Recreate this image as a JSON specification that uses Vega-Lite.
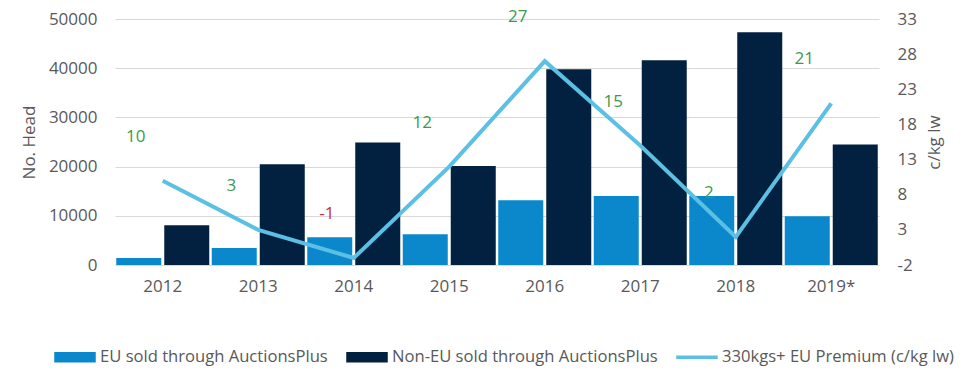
{
  "$schema": "https://vega.github.io/schema/vega-lite/v6.json",
  "width": 764,
  "height": 246,
  "autosize": "none",
  "padding": {"left": 115, "top": 19, "right": 93, "bottom": 112},
  "background": "white",
  "config": {
    "view": {"stroke": null},
    "font": "Open Sans",
    "axis": {
      "labelFont": "Open Sans",
      "labelFontSize": 17,
      "labelColor": "#595959",
      "titleFont": "Open Sans",
      "titleFontSize": 17,
      "titleFontWeight": "normal",
      "titleColor": "#595959",
      "domain": false,
      "ticks": false
    }
  },
  "datasets": {
    "bars": [
      {"year": "2012", "series": "EU sold through AuctionsPlus", "head": 1400},
      {"year": "2012", "series": "Non-EU sold through AuctionsPlus", "head": 8100},
      {"year": "2013", "series": "EU sold through AuctionsPlus", "head": 3450},
      {"year": "2013", "series": "Non-EU sold through AuctionsPlus", "head": 20500},
      {"year": "2014", "series": "EU sold through AuctionsPlus", "head": 5650},
      {"year": "2014", "series": "Non-EU sold through AuctionsPlus", "head": 24900},
      {"year": "2015", "series": "EU sold through AuctionsPlus", "head": 6250},
      {"year": "2015", "series": "Non-EU sold through AuctionsPlus", "head": 20100},
      {"year": "2016", "series": "EU sold through AuctionsPlus", "head": 13150},
      {"year": "2016", "series": "Non-EU sold through AuctionsPlus", "head": 39800},
      {"year": "2017", "series": "EU sold through AuctionsPlus", "head": 14000},
      {"year": "2017", "series": "Non-EU sold through AuctionsPlus", "head": 41600},
      {"year": "2018", "series": "EU sold through AuctionsPlus", "head": 14000},
      {"year": "2018", "series": "Non-EU sold through AuctionsPlus", "head": 47300},
      {"year": "2019*", "series": "EU sold through AuctionsPlus", "head": 9900},
      {"year": "2019*", "series": "Non-EU sold through AuctionsPlus", "head": 24500}
    ],
    "premium": [
      {"year": "2012", "premium": 10},
      {"year": "2013", "premium": 3},
      {"year": "2014", "premium": -1},
      {"year": "2015", "premium": 12},
      {"year": "2016", "premium": 27},
      {"year": "2017", "premium": 15},
      {"year": "2018", "premium": 2},
      {"year": "2019*", "premium": 21}
    ]
  },
  "layer": [
    {
      "data": {"name": "bars"},
      "mark": {"type": "bar"},
      "encoding": {
        "x": {
          "field": "year", "type": "nominal", "sort": null,
          "scale": {"paddingInner": 0, "paddingOuter": 0},
          "axis": {"title": null, "labelAngle": 0, "labelPadding": 13}
        },
        "xOffset": {
          "field": "series", "type": "nominal",
          "sort": ["EU sold through AuctionsPlus", "Non-EU sold through AuctionsPlus"],
          "scale": {"paddingInner": 0.0625, "paddingOuter": 0.026}
        },
        "y": {
          "field": "head", "type": "quantitative",
          "scale": {"domain": [0, 50000], "nice": false},
          "axis": {
            "title": "No. Head",
            "values": [0, 10000, 20000, 30000, 40000, 50000],
            "format": "d",
            "grid": true,
            "gridColor": "#d9d9d9",
            "labelPadding": 18,
            "titlePadding": 10
          }
        },
        "color": {
          "field": "series", "type": "nominal",
          "scale": {
            "domain": ["EU sold through AuctionsPlus", "Non-EU sold through AuctionsPlus", "330kgs+ EU Premium (c/kg lw)"],
            "range": ["#0b88cc", "#02203f", "#5bc0e3"]
          },
          "legend": {
            "orient": "none",
            "legendX": -61,
            "legendY": 317,
            "direction": "horizontal",
            "title": null,
            "labelFont": "Open Sans",
            "labelFontSize": 16.6,
            "labelColor": "#595959",
            "labelLimit": 0,
            "symbolSize": 1600,
            "labelOffset": 4,
            "columnPadding": 16,
            "symbolType": "M-1,-0.225H1V0.225H-1Z",
            "encode": {
              "symbols": {
                "update": {
                  "shape": {"signal": "datum.value === '330kgs+ EU Premium (c/kg lw)' ? 'M-1,-0.05H1V0.05H-1Z' : 'M-1,-0.225H1V0.225H-1Z'"},
                  "fill": {"scale": "color", "field": "value"},
                  "stroke": {"value": "transparent"},
                  "opacity": {"value": 1},
                  "fillOpacity": {"value": 1}
                }
              }
            }
          }
        }
      }
    },
    {
      "data": {"name": "premium"},
      "encoding": {
        "x": {"field": "year", "type": "nominal", "sort": null},
        "y": {
          "field": "premium", "type": "quantitative",
          "scale": {"domain": [-2, 33], "nice": false, "zero": false},
          "axis": {
            "orient": "right",
            "title": "c/kg lw",
            "values": [-2, 3, 8, 13, 18, 23, 28, 33],
            "labelExpr": "replace(datum.label, '\u2212', '-')",
            "grid": false,
            "labelPadding": 18,
            "titlePadding": 10,
            "titleAngle": 270,
            "titleBaseline": "top"
          }
        }
      },
      "layer": [
        {
          "mark": {"type": "line", "strokeWidth": 4},
          "encoding": {
            "color": {"datum": "330kgs+ EU Premium (c/kg lw)"}
          }
        },
        {
          "mark": {"type": "text", "fontSize": 17, "font": "Open Sans", "dx": -27, "dy": -44},
          "encoding": {
            "text": {"field": "premium", "type": "nominal"},
            "color": {
              "condition": {"test": "datum.premium < 0", "value": "#c8302c"},
              "value": "#3a9a4e"
            }
          }
        }
      ]
    }
  ],
  "resolve": {"scale": {"y": "independent"}}
}
